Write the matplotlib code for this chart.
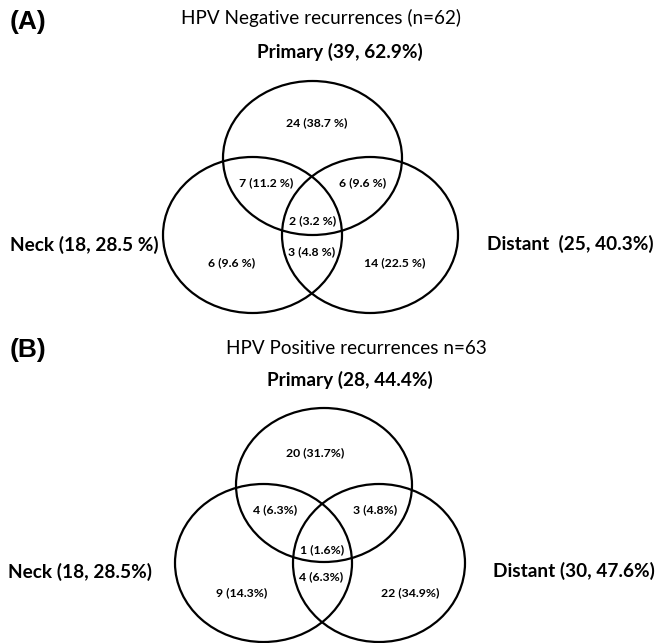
import matplotlib
matplotlib.use("Agg")
import matplotlib.pyplot as plt
from matplotlib.patches import Ellipse

# ---- data ----
panel_tags = ["(A)", "(B)"]
panel_titles = ["HPV Negative recurrences (n=62)", "HPV Positive recurrences n=63"]
set_labels_A = ["Primary (39, 62.9%)", "Neck (18, 28.5 %)", "Distant  (25, 40.3%)"]
set_labels_B = ["Primary (28, 44.4%)", "Neck (18, 28.5%)", "Distant (30, 47.6%)"]
# regions: P only, P&N, P&D, P&N&D, N&D, N only, D only
counts_A = [24, 7, 6, 2, 3, 6, 14]
pcts_A = ["38.7", "11.2", "9.6", "3.2", "4.8", "9.6", "22.5"]
counts_B = [20, 4, 3, 1, 4, 9, 22]
pcts_B = ["31.7", "6.3", "4.8", "1.6", "6.3", "14.3", "34.9"]

W, H = 656, 643
fig = plt.figure(figsize=(W / 100, H / 100), dpi=100)
ax = fig.add_axes([0, 0, 1, 1])
ax.set_xlim(0, W)
ax.set_ylim(H, 0)
ax.axis("off")

FONT = "Lato"

panels = [
    dict(tag=panel_tags[0], title=panel_titles[0], sets=set_labels_A,
         counts=counts_A, pcts=pcts_A, sep=" ",
         tag_xy=(10, 22), title_xy=(321, 18), set_xy=[(340, 52), (84, 245), (570, 244)],
         ellipses=[((312.5, 158), 179, 154), ((252.5, 235), 179, 156), ((370, 235), 176, 156)],
         reg_xy=[(317, 123), (266, 183), (363, 183), (313, 221), (312, 252), (232, 263), (395, 263)]),
    dict(tag=panel_tags[1], title=panel_titles[1], sets=set_labels_B,
         counts=counts_B, pcts=pcts_B, sep="",
         tag_xy=(10, 350), title_xy=(356, 348), set_xy=[(350, 380), (80, 572), (574, 571)],
         ellipses=[((324, 485), 176, 154), ((263.5, 563), 177, 158), ((379, 563), 172, 158)],
         reg_xy=[(315, 453), (275, 510), (375, 510), (322, 550), (321, 577), (242, 593), (410, 593)]),
]

for p in panels:
    ax.text(*p["tag_xy"], p["tag"], fontsize=19, fontweight="bold",
            family="Liberation Sans", ha="left", va="center")
    ax.text(*p["title_xy"], p["title"], fontsize=13.6, family=FONT,
            ha="center", va="center")
    for lab, xy in zip(p["sets"], p["set_xy"]):
        ax.text(*xy, lab, fontsize=13.7, fontweight="bold", family=FONT,
                ha="center", va="center")
    for (c, w, h) in p["ellipses"]:
        ax.add_patch(Ellipse(c, w, h, fill=False, edgecolor="black", lw=1.6, clip_on=False))
    for cnt, pc, xy in zip(p["counts"], p["pcts"], p["reg_xy"]):
        ax.text(*xy, f"{cnt} ({pc}{p['sep']}%)", fontsize=8.8, fontweight="bold",
                family=FONT, ha="center", va="center")

fig.savefig("out.png", dpi=100, facecolor="white")
